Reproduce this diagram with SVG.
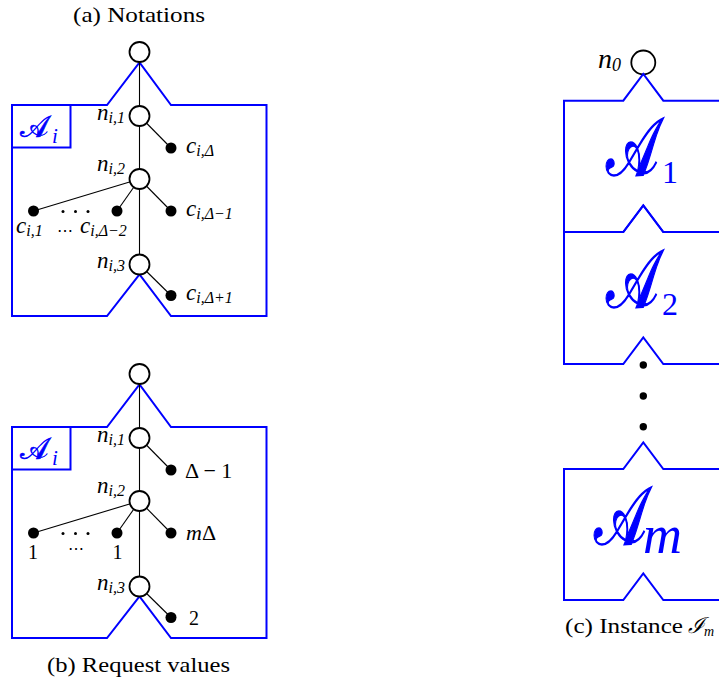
<svg xmlns="http://www.w3.org/2000/svg" width="719" height="679" viewBox="0 0 719 679">
<style>
.bl{fill:none;stroke:#0000ff;stroke-width:2;stroke-linejoin:miter}
.e{stroke:#000;stroke-width:1.1;fill:none}
.nd{fill:#fff;stroke:#000;stroke-width:1.8}
.lf{fill:#000}
.t{font-family:"Liberation Serif","DejaVu Serif",serif;fill:#000}
.m{font-family:"Liberation Serif","DejaVu Serif",serif;font-style:italic;fill:#000}
.cal{font-family:"DejaVu Serif","DejaVu Sans","Noto Sans",serif;fill:#0000ff;stroke:#0000ff}
.sb{font-family:"Liberation Serif",serif;fill:#0000ff}
</style>
<rect width="719" height="679" fill="#fff"/>

<!-- captions -->
<text class="t" x="73" y="22" font-size="22" textLength="132" lengthAdjust="spacingAndGlyphs">(a) Notations</text>
<text class="t" x="47" y="672" font-size="22" textLength="183" lengthAdjust="spacingAndGlyphs">(b) Request values</text>
<text class="t" x="565" y="633" font-size="22"><tspan textLength="118" lengthAdjust="spacingAndGlyphs">(c) Instance</tspan><tspan class="m" x="688">ℐ</tspan><tspan class="m" font-size="14" dy="3">m</tspan></text>

<!-- panel (a) -->
<g id="boxA">
<path class="bl" d="M12,105 L107,105 L139.5,62.5 L171,105 L266.5,105 L266.5,316 L171,316 L139.5,274.5 L107,316 L12,316 Z"/>
<rect class="bl" x="12" y="105" width="58.5" height="42.5"/>
<text class="cal" x="20" y="137" font-size="30" stroke-width="0.6">𝒜</text>
<text class="sb" x="52" y="143" font-size="21" font-style="italic">i</text>
</g>
<g id="edgesA">
<line class="e" x1="139.5" y1="52" x2="139.5" y2="264.5"/>
<line class="e" x1="139.5" y1="116" x2="171" y2="148"/>
<line class="e" x1="139.5" y1="179" x2="33.5" y2="211"/>
<line class="e" x1="139.5" y1="179" x2="117" y2="211"/>
<line class="e" x1="139.5" y1="179" x2="171" y2="211"/>
<line class="e" x1="139.5" y1="264.5" x2="171" y2="295.5"/>
</g>
<g id="a_root"><circle class="nd" cx="139.5" cy="52" r="10"/></g>
<g id="a_n1"><circle class="nd" cx="139.5" cy="116" r="10"/>
<text class="m" x="125" y="120" font-size="23" text-anchor="end">n<tspan font-size="16" dy="3">i</tspan><tspan class="t" font-size="16">,1</tspan></text></g>
<g id="a_n2"><circle class="nd" cx="139.5" cy="179" r="10"/>
<text class="m" x="125" y="171" font-size="23" text-anchor="end">n<tspan font-size="16" dy="3">i</tspan><tspan class="t" font-size="16">,2</tspan></text></g>
<g id="a_n3"><circle class="nd" cx="139.5" cy="264.5" r="10"/>
<text class="m" x="125" y="268" font-size="23" text-anchor="end">n<tspan font-size="16" dy="3">i</tspan><tspan class="t" font-size="16">,3</tspan></text></g>
<g id="a_c1"><circle class="lf" cx="171" cy="148" r="5.5"/>
<text class="m" x="186" y="153" font-size="23">c<tspan font-size="16" dy="3">i</tspan><tspan class="t" font-size="16">,Δ</tspan></text></g>
<g id="a_c2"><circle class="lf" cx="171" cy="211" r="5.5"/>
<text class="m" x="186" y="216" font-size="23">c<tspan font-size="16" dy="3">i</tspan><tspan class="t" font-size="16">,Δ−1</tspan></text></g>
<g id="a_c3"><circle class="lf" cx="117" cy="211" r="5.5"/>
<text class="m" x="80" y="233" font-size="23">c<tspan font-size="16" dy="3">i</tspan><tspan class="t" font-size="16">,Δ−2</tspan></text></g>
<g id="a_c4"><circle class="lf" cx="33.5" cy="211" r="5.5"/>
<text class="m" x="16" y="233" font-size="23">c<tspan font-size="16" dy="3">i</tspan><tspan class="t" font-size="16">,1</tspan></text>
<text class="t" x="64.5" y="236" font-size="16" font-family="DejaVu Sans" text-anchor="middle">⋯</text></g>
<g id="a_c5"><circle class="lf" cx="171" cy="295.5" r="5.5"/>
<text class="m" x="186" y="300" font-size="23">c<tspan font-size="16" dy="3">i</tspan><tspan class="t" font-size="16">,Δ+1</tspan></text></g>
<g id="a_dots"><circle class="lf" cx="63" cy="211.5" r="1.5"/><circle class="lf" cx="75.5" cy="211.5" r="1.5"/><circle class="lf" cx="88" cy="211.5" r="1.5"/></g>

<!-- panel (b) -->
<g id="boxB">
<path class="bl" d="M12,427 L107,427 L139.5,384.5 L171,427 L266.5,427 L266.5,638 L171,638 L139.5,596.5 L107,638 L12,638 Z"/>
<rect class="bl" x="12" y="427" width="58.5" height="42.5"/>
<text class="cal" x="20" y="459" font-size="30" stroke-width="0.6">𝒜</text>
<text class="sb" x="52" y="465" font-size="21" font-style="italic">i</text>
</g>
<g id="edgesB">
<line class="e" x1="139.5" y1="374" x2="139.5" y2="586.5"/>
<line class="e" x1="139.5" y1="438" x2="171" y2="470"/>
<line class="e" x1="139.5" y1="501" x2="33.5" y2="533"/>
<line class="e" x1="139.5" y1="501" x2="117" y2="533"/>
<line class="e" x1="139.5" y1="501" x2="171" y2="533"/>
<line class="e" x1="139.5" y1="586.5" x2="171" y2="617.5"/>
</g>
<g id="b_root"><circle class="nd" cx="139.5" cy="374" r="10"/></g>
<g id="b_n1"><circle class="nd" cx="139.5" cy="438" r="10"/>
<text class="m" x="125" y="442" font-size="23" text-anchor="end">n<tspan font-size="16" dy="3">i</tspan><tspan class="t" font-size="16">,1</tspan></text></g>
<g id="b_n2"><circle class="nd" cx="139.5" cy="501" r="10"/>
<text class="m" x="125" y="493" font-size="23" text-anchor="end">n<tspan font-size="16" dy="3">i</tspan><tspan class="t" font-size="16">,2</tspan></text></g>
<g id="b_n3"><circle class="nd" cx="139.5" cy="586.5" r="10"/>
<text class="m" x="125" y="590" font-size="23" text-anchor="end">n<tspan font-size="16" dy="3">i</tspan><tspan class="t" font-size="16">,3</tspan></text></g>
<g id="b_c1"><circle class="lf" cx="171" cy="470" r="5.5"/>
<text class="t" x="185" y="478" font-size="22">Δ − 1</text></g>
<g id="b_c2"><circle class="lf" cx="171" cy="533" r="5.5"/>
<text class="t" x="186" y="540" font-size="22"><tspan class="m">m</tspan>Δ</text></g>
<g id="b_c3"><circle class="lf" cx="117" cy="533" r="5.5"/>
<text class="t" x="117.5" y="559" font-size="20" text-anchor="middle">1</text></g>
<g id="b_c4"><circle class="lf" cx="33.5" cy="533" r="5.5"/>
<text class="t" x="33" y="559" font-size="20" text-anchor="middle">1</text>
<text class="t" x="76" y="554" font-size="16" font-family="DejaVu Sans" text-anchor="middle">⋯</text></g>
<g id="b_c5"><circle class="lf" cx="171" cy="617.5" r="5.5"/>
<text class="t" x="189" y="625" font-size="20">2</text></g>
<g id="b_dots"><circle class="lf" cx="63" cy="533.5" r="1.5"/><circle class="lf" cx="75.5" cy="533.5" r="1.5"/><circle class="lf" cx="88" cy="533.5" r="1.5"/></g>

<!-- panel (c) -->
<g id="c_n0"><circle class="nd" cx="643.3" cy="62.5" r="12"/>
<text class="m" x="598" y="68" font-size="28">n<tspan class="t" font-size="18" dy="3">0</tspan></text></g>
<g id="c_A1">
<path class="bl" d="M564,100.7 L623.3,100.7 L643.3,74 L663.3,100.7 L760,100.7 L760,232 L663.3,232 L643.3,205.3 L623.3,232 L564,232 Z"/>
<text class="cal" transform="translate(606,175) scale(0.68,1)" font-size="82" stroke-width="1.5">𝒜</text>
<text class="sb" x="662" y="183" font-size="32">1</text>
</g>
<g id="c_A2">
<path class="bl" d="M564,232 L623.3,232 L643.3,205.3 L663.3,232 L760,232 L760,364 L663.3,364 L643.3,337.5 L623.3,364 L564,364 Z"/>
<text class="cal" transform="translate(606,307) scale(0.68,1)" font-size="82" stroke-width="1.5">𝒜</text>
<text class="sb" x="662" y="315" font-size="32">2</text>
</g>
<g id="c_dots"><circle class="lf" cx="643.3" cy="365" r="3.7"/><circle class="lf" cx="643.3" cy="396" r="3.7"/><circle class="lf" cx="643.3" cy="426.7" r="3.7"/></g>
<g id="c_Am">
<path class="bl" d="M564,469 L623.3,469 L643.3,442.5 L663.3,469 L760,469 L760,600 L663.3,600 L643.3,573.3 L623.3,600 L564,600 Z"/>
<text class="cal" transform="translate(594,544) scale(0.68,1)" font-size="82" stroke-width="1.5">𝒜</text>
<text class="sb" x="643" y="553" font-size="54" font-style="italic">m</text>
</g>
</svg>
